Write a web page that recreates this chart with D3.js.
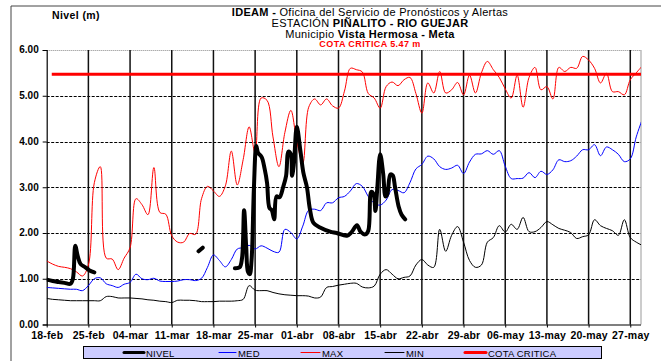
<!DOCTYPE html>
<html>
<head>
<meta charset="utf-8">
<script src="https://cdn.jsdelivr.net/npm/d3@7"></script>
<style>
  html, body { margin: 0; padding: 0; background: #fff; }
  svg { display: block; font-family: "Liberation Sans", Arial, sans-serif; }
</style>
</head>
<body>
<svg id="chart" width="661" height="361"></svg>
<script>
// ---------------- DATA ----------------
const xTickLabels = ["18-feb","25-feb","04-mar","11-mar","18-mar","25-mar","01-abr","08-abr","15-abr","22-abr","29-abr","06-may","13-may","20-may","27-may"];
const yTickValues = [0, 1, 2, 3, 4, 5, 6];

// daily values, day 0 = 18-feb
const maxValues = [1.39,1.32,1.27,1.25,1.22,1.15,1.06,1.30,3.10,3.45,
  1.45,1.43,1.20,1.45,1.68,2.75,2.62,2.40,3.43,2.45,
  2.41,1.94,1.80,1.80,1.99,1.97,2.75,3.02,2.92,2.80,
  3.03,3.79,3.05,3.61,4.32,3.75,4.95,4.90,4.10,3.45,
  4.20,4.68,4.00,3.53,4.75,4.93,4.80,4.93,4.78,4.73,
  5.10,5.60,5.57,5.52,5.05,4.95,4.73,5.20,5.30,5.22,
  5.35,5.40,5.05,4.62,5.28,5.06,5.53,5.06,5.13,5.29,
  5.02,5.45,5.06,5.50,5.75,5.57,5.40,5.15,4.95,5.45,
  4.75,5.40,5.62,5.13,5.20,4.93,5.62,5.53,5.62,5.60,
  5.86,5.78,5.60,5.28,5.49,5.09,5.09,5.02,5.35,5.50,5.65];

const medValues = [0.81,0.80,0.79,0.78,0.77,0.77,0.74,0.85,1.00,1.02,
  0.89,0.85,0.81,0.88,0.92,1.10,1.00,0.98,1.01,0.95,
  0.94,0.94,0.95,0.98,0.98,0.96,1.01,1.25,1.52,1.40,
  1.26,1.42,1.65,1.68,1.73,1.65,1.72,1.67,1.60,1.58,
  2.08,2.01,1.87,2.15,2.50,2.52,2.49,2.66,2.66,2.77,
  2.80,2.92,3.08,3.02,2.80,2.65,2.61,2.72,2.95,2.93,
  2.88,3.10,3.40,3.50,3.68,3.62,3.45,3.39,3.42,3.48,
  3.30,3.55,3.72,3.73,3.80,3.72,3.80,3.46,3.19,3.19,
  3.20,3.32,3.21,3.35,3.28,3.38,3.60,3.56,3.58,3.68,
  3.82,3.82,3.93,3.69,3.88,3.82,3.72,3.56,3.62,4.10,4.48];

const minValues = [0.57,0.55,0.54,0.53,0.52,0.52,0.52,0.52,0.52,0.52,
  0.61,0.61,0.58,0.58,0.58,0.57,0.56,0.54,0.53,0.51,
  0.50,0.48,0.53,0.53,0.53,0.52,0.50,0.50,0.50,0.51,
  0.51,0.51,0.52,0.55,0.85,0.75,0.74,0.74,0.70,0.67,
  0.65,0.64,0.63,0.63,0.62,0.58,0.60,0.81,0.83,0.86,
  0.88,0.90,0.90,0.82,0.80,0.84,1.10,1.20,1.10,1.00,
  1.03,1.06,1.30,1.42,1.30,1.25,2.08,1.60,1.95,2.14,
  1.80,1.40,1.25,1.30,1.80,1.90,2.16,2.02,2.19,2.08,
  2.34,2.03,2.03,2.12,2.25,2.18,2.10,2.06,2.01,1.88,
  1.92,1.96,2.29,2.16,2.10,2.05,1.95,2.29,1.90,1.80,1.73];

// observed level (day offset, value); null separates gaps
const nivelDays = [0,1,2,3,4,4.4,4.8,5.2,5.7,6.5,7.2,8,
  null,
  25.5,26.2,
  null,
  31.6,32.4,32.8,33.15,33.5,33.8,34.1,34.4,34.8,35.2,35.5,36.1,36.6,37,37.4,37.8,38.2,38.6,39.1,39.7,40.2,40.6,41,41.2,41.5,42,42.6,43.1,43.7,44.2,44.8,45.9,47.6,48.7,50.4,51.2,52.1,52.7,53.5,54,54.5,54.9,55.2,55.5,56,56.5,56.9,57.2,57.7,58.1,58.5,59.1,59.6,60.2];
const nivelValues = [0.98,0.95,0.93,0.91,0.89,1.00,1.72,1.50,1.32,1.25,1.18,1.14,
  null,
  1.60,1.68,
  null,
  1.23,1.25,1.45,2.50,1.70,1.15,1.10,1.40,3.00,3.90,3.75,3.66,3.40,3.10,2.55,2.50,2.30,2.80,2.78,3.00,3.25,3.78,3.72,3.25,3.50,4.32,3.80,3.32,3.00,2.52,2.22,2.12,2.03,2.00,1.94,2.02,2.17,2.03,1.97,2.05,2.90,2.85,2.48,2.95,3.72,3.30,2.80,2.85,3.28,3.26,3.00,2.58,2.40,2.30];

const cotaDays = [0.85, 100];
const cotaValues = [5.47, 5.47];

const legendNames = ["NIVEL", "MED", "MAX", "MIN", "COTA CRITICA"];

// ---------------- CHART ----------------
const svg = d3.select("#chart");
const pLeft = 46.7, pRight = 641, pTop = 50, pBottom = 324.5;

const x = d3.scaleLinear().domain([0, 99.8]).range([pLeft, pRight]);
const y = d3.scaleLinear().domain([0, 6]).range([pBottom, pTop]);

// outer frame (top and left)
svg.append("path").attr("d", `M11,361 V6 H661`).attr("fill", "none").attr("stroke", "#444").attr("stroke-width", 1);

// title
const title = svg.append("g").attr("text-anchor", "middle").attr("fill", "#000");
const t1 = title.append("text").attr("x", 370).attr("y", 16).attr("font-size", 11).attr("letter-spacing", 0.3);
t1.append("tspan").attr("font-weight", "bold").text("IDEAM - ");
t1.append("tspan").text("Oficina del Servicio de Pronósticos  y Alertas");
const t2 = title.append("text").attr("x", 370).attr("y", 27).attr("font-size", 11).attr("letter-spacing", 0.3);
t2.append("tspan").text("ESTACIÓN ");
t2.append("tspan").attr("font-weight", "bold").text("PIÑALITO  - RIO GUEJAR");
const t3 = title.append("text").attr("x", 370).attr("y", 38).attr("font-size", 11).attr("letter-spacing", 0.3);
t3.append("tspan").text("Municipio ");
t3.append("tspan").attr("font-weight", "bold").text("Vista Hermosa - Meta");
title.append("text").attr("x", 370).attr("y", 47).attr("font-size", 9).attr("font-weight", "bold")
  .attr("letter-spacing", 0.4).attr("fill", "#ff0000").text("COTA CRÍTICA  5.47 m");

svg.append("text").attr("x", 52).attr("y", 19).attr("font-size", 10.5).attr("letter-spacing", 0.4)
  .attr("font-weight", "bold").text("Nivel (m)");

// horizontal gridlines
const hg = svg.append("g");
yTickValues.filter(v => v > 0).forEach(v => {
  hg.append("line").attr("x1", pLeft).attr("x2", pRight)
    .attr("y1", Math.round(y(v)) + 0.5).attr("y2", Math.round(y(v)) + 0.5)
    .attr("stroke", v === 6 ? "#888" : "#000").attr("stroke-width", 1)
    .attr("stroke-dasharray", v === 6 ? "1,1" : "3,1.5");
});

// vertical gridlines
const tickDays = xTickLabels.map((d, i) => i * 7);
svg.append("g").selectAll("line").data(tickDays.filter(d => d > 0)).join("line")
  .attr("x1", d => x(d)).attr("x2", d => x(d))
  .attr("y1", pTop).attr("y2", pBottom)
  .attr("stroke", "#111").attr("stroke-width", 1.5);
svg.append("line").attr("x1", pRight).attr("x2", pRight).attr("y1", pTop).attr("y2", pBottom)
  .attr("stroke", "#999").attr("stroke-width", 1);

// axes
const yAxis = svg.append("g").attr("transform", `translate(${pLeft},0)`)
  .call(d3.axisLeft(y).tickValues(yTickValues).tickFormat(d3.format(".2f")).tickSize(4).tickPadding(4));
const xAxis = svg.append("g").attr("transform", `translate(0,${pBottom})`)
  .call(d3.axisBottom(x).tickValues(tickDays).tickFormat((d, i) => xTickLabels[i]).tickSize(3).tickPadding(4.5));
[yAxis, xAxis].forEach(a => {
  a.selectAll("text").attr("font-size", 10).attr("font-weight", "bold").attr("fill", "#000")
   .attr("font-family", "'Liberation Sans', Arial, sans-serif");
  a.selectAll("line").attr("stroke", "#000");
  a.select(".domain").attr("stroke", "#000").attr("stroke-width", 1.2);
});
yAxis.selectAll("text").attr("dy", "0.28em");
xAxis.selectAll("text").attr("font-size", 10.5).attr("letter-spacing", 0.2);
xAxis.select(".domain").attr("d", `M${pLeft},0.5H${pRight}`);

// clip
svg.append("clipPath").attr("id", "clip").append("rect")
  .attr("x", pLeft).attr("y", pTop - 5).attr("width", pRight - pLeft).attr("height", pBottom - pTop + 5);
const plot = svg.append("g").attr("clip-path", "url(#clip)");

const curve = d3.curveCatmullRom.alpha(0.5);
const dailyLine = d3.line().x((d, i) => x(i)).y(d => y(d)).curve(curve);

plot.append("path").datum(maxValues).attr("d", dailyLine).attr("fill", "none").attr("stroke", "#ff0000").attr("stroke-width", 1);
plot.append("path").datum(medValues).attr("d", dailyLine).attr("fill", "none").attr("stroke", "#0000ff").attr("stroke-width", 1);
plot.append("path").datum(minValues).attr("d", dailyLine).attr("fill", "none").attr("stroke", "#000").attr("stroke-width", 1);

// cota critica
const cota = cotaDays.map((d, i) => [d, cotaValues[i]]);
plot.append("path").datum(cota)
  .attr("d", d3.line().x(d => x(d[0])).y(d => y(d[1])))
  .attr("fill", "none").attr("stroke", "#ff0000").attr("stroke-width", 3);

// nivel
const nivel = nivelDays.map((d, i) => [d, nivelValues[i]]);
plot.append("path").datum(nivel)
  .attr("d", d3.line().defined(d => d[0] !== null && d[1] !== null).x(d => x(d[0])).y(d => y(d[1])).curve(curve))
  .attr("fill", "none").attr("stroke", "#000").attr("stroke-width", 4)
  .attr("stroke-linejoin", "round").attr("stroke-linecap", "round");

// legend
const lg = svg.append("g");
lg.append("rect").attr("x", 83.5).attr("y", 346.5).attr("width", 518).attr("height", 12)
  .attr("fill", "#ccccff").attr("stroke", "#000").attr("stroke-width", 1);
const legendStyle = [
  {x1: 124, x2: 144, color: "#000", w: 3},
  {x1: 219, x2: 236, color: "#0000ff", w: 1},
  {x1: 301, x2: 320, color: "#ff0000", w: 1},
  {x1: 385, x2: 404, color: "#000", w: 1},
  {x1: 465, x2: 486, color: "#ff0000", w: 3}
];
legendNames.forEach((name, i) => {
  const s = legendStyle[i];
  lg.append("line").attr("x1", s.x1).attr("x2", s.x2).attr("y1", 352.5).attr("y2", 352.5)
    .attr("stroke", s.color).attr("stroke-width", s.w).attr("stroke-linecap", "round");
  lg.append("text").attr("x", s.x2 + 2).attr("y", 356.5).attr("font-size", 9.5).attr("letter-spacing", 0.2)
    .attr("fill", "#000").text(name);
});
</script>
</body>
</html>
